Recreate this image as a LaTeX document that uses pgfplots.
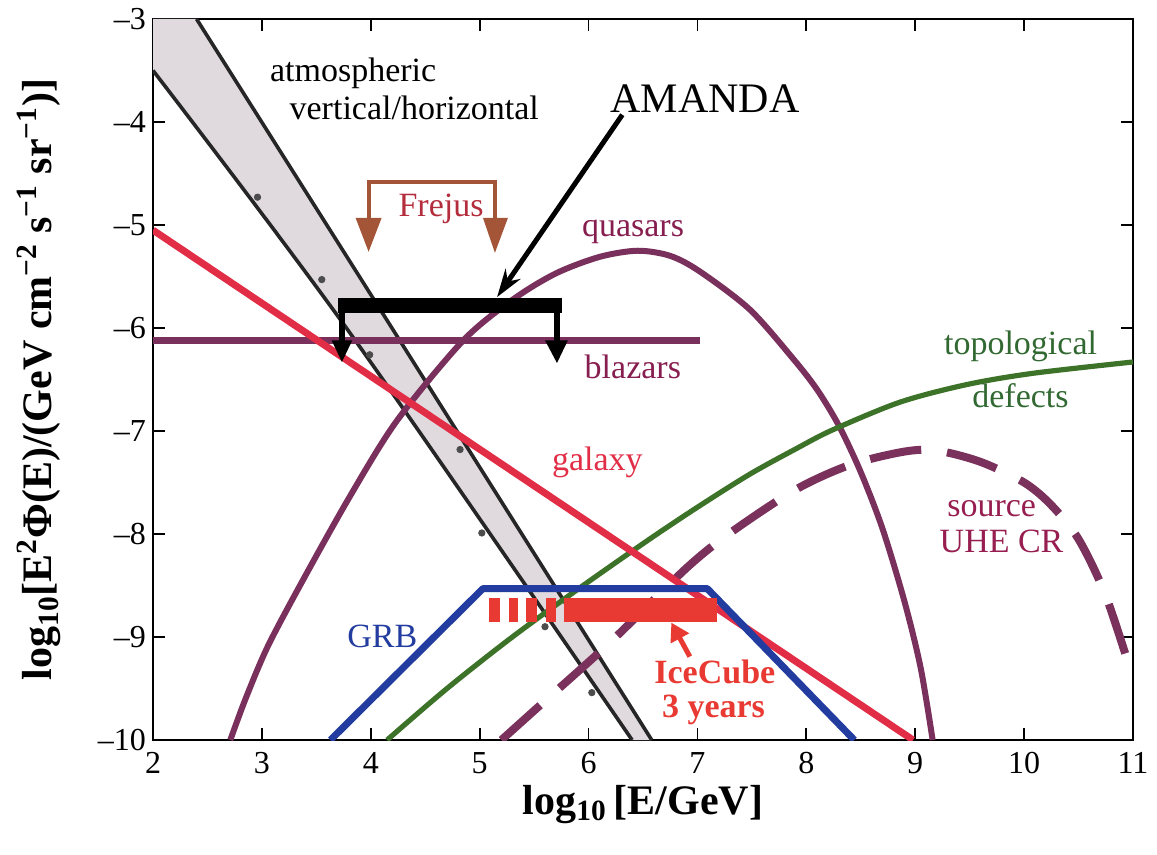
\documentclass[border=0pt]{standalone}
\usepackage{fontspec}
\setmainfont{Liberation Serif}
\usepackage{pgfplots}
\pgfplotsset{compat=1.18}
\usetikzlibrary{arrows.meta}
\definecolor{galred}{RGB}{226,45,70}
\definecolor{quas}{RGB}{122,48,92}
\definecolor{qtext}{RGB}{135,30,80}
\definecolor{topo}{RGB}{60,115,40}
\definecolor{topotext}{RGB}{50,105,50}
\definecolor{grb}{RGB}{35,60,160}
\definecolor{ice}{RGB}{232,58,50}
\definecolor{frej}{RGB}{165,85,55}
\definecolor{frejtext}{RGB}{180,45,60}
\definecolor{band}{RGB}{224,218,222}
\definecolor{uhe}{RGB}{122,50,92}
\definecolor{uhetext}{RGB}{150,30,80}
\newcommand{\lab}{\fontsize{17}{20}\selectfont}
\begin{document}
\begin{tikzpicture}
\begin{axis}[name=ax, scale only axis, width=490pt, height=360.5pt,
  xmin=2, xmax=11, ymin=-10, ymax=-3,
  xtick={2,...,11}, ytick={-10,...,-3},
  yticklabels={–10,–9,–8,–7,–6,–5,–4,–3},
  tick align=inside, major tick length=6pt,
  axis line style={line width=1.2pt},
  every tick/.style={line width=0.9pt, black},
  /pgf/number format/assume math mode=true,
  tick label style={font=\fontsize{16}{18}\selectfont},
  xticklabel shift=2.5pt,
  clip=true]
% atmospheric band
\addplot[fill=band, draw=none] coordinates {(2,-3) (2.4,-3) (4.2,-6.01) (6.58,-10) (6.4,-10) (3.81,-6.05) (2,-3.5)};
\addplot[black!85, line width=1.8pt] coordinates {(2.4,-3) (4.2,-6.01) (6.58,-10)};
\addplot[black!85, line width=1.8pt, smooth] coordinates {(2,-3.5) (3.81,-6.05) (6.4,-10)};
\addplot[only marks, mark=*, mark size=1.6pt, black!70] coordinates {(2.96,-4.73) (3.55,-5.53) (3.99,-6.26) (4.82,-7.18) (5.02,-7.99) (5.60,-8.90) (6.03,-9.54)};
% quasars
\addplot[quas, line width=3pt, smooth] coordinates {(2.71,-10) (2.85,-9.6) (3.05,-9.1) (3.35,-8.5) (3.8,-7.65) (4.24,-6.9) (4.85,-6.12) (5.31,-5.72) (5.7,-5.47) (6.1,-5.31) (6.45,-5.25) (6.75,-5.3) (7.02,-5.45) (7.48,-5.82) (7.88,-6.3) (8.1,-6.6) (8.3,-6.95) (8.5,-7.4) (8.7,-7.95) (8.9,-8.65) (9.05,-9.3) (9.16,-10)};
% blazars
\addplot[quas, line width=3.2pt] coordinates {(2,-6.12) (7.02,-6.12)};
% topological defects
\addplot[topo, line width=2.6pt, smooth] coordinates {(4.15,-10) (4.7,-9.5) (5.3,-9.0) (5.95,-8.5) (6.56,-8.05) (7.0,-7.74) (7.48,-7.42) (7.91,-7.17) (8.24,-6.99) (8.86,-6.72) (9.47,-6.55) (10.08,-6.44) (11,-6.33)};
% source UHE CR
\addplot[uhe, line width=4pt, smooth, dash pattern=on 26pt off 13pt] coordinates {(5.2,-10) (5.6,-9.62) (6.2,-9.05) (6.9,-8.33) (7.3,-7.99) (7.9,-7.57) (8.4,-7.33) (8.9,-7.2) (9.2,-7.19) (9.6,-7.3) (10.0,-7.5) (10.25,-7.72) (10.5,-8.05) (10.75,-8.6) (11,-9.4)};
% galaxy
\addplot[galred, line width=3.5pt] coordinates {(2,-5.05) (8.98,-10)};
% GRB
\addplot[grb, line width=3.5pt, line join=round] coordinates {(3.63,-10) (5.03,-8.53) (7.09,-8.53) (8.44,-10)};
% IceCube
\addplot[ice, line width=12pt] coordinates {(5.09,-8.74) (5.19,-8.74)};
\addplot[ice, line width=12pt] coordinates {(5.27,-8.74) (5.35,-8.74)};
\addplot[ice, line width=12pt] coordinates {(5.43,-8.74) (5.53,-8.74)};
\addplot[ice, line width=12pt] coordinates {(5.61,-8.74) (5.70,-8.74)};
\addplot[ice, line width=12pt] coordinates {(5.77,-8.74) (7.18,-8.74)};
\addplot[ice, line width=2.5pt, -{Triangle[length=9pt,width=10pt]}] coordinates {(6.93,-9.19) (6.76,-8.86)};
% Frejus
\addplot[frej, line width=2pt] coordinates {(3.98,-4.95) (3.98,-4.58) (5.14,-4.58) (5.14,-4.95)};
\addplot[fill=frej, draw=none] coordinates {(3.86,-4.93) (4.10,-4.93) (3.98,-5.26)};
\addplot[fill=frej, draw=none] coordinates {(5.03,-4.93) (5.26,-4.93) (5.14,-5.27)};
% AMANDA
\addplot[black, line width=7.5pt] coordinates {(3.70,-5.78) (5.76,-5.78)};
\addplot[black, line width=2.8pt] coordinates {(3.735,-5.78) (3.735,-6.14)};
\addplot[black, line width=2.8pt] coordinates {(5.71,-5.78) (5.71,-6.14)};
\addplot[fill=black, draw=none] coordinates {(3.64,-6.12) (3.83,-6.12) (3.735,-6.33)};
\addplot[fill=black, draw=none] coordinates {(5.60,-6.12) (5.81,-6.12) (5.71,-6.34)};
\addplot[black, line width=2.5pt, -{Stealth[length=14pt,width=9pt]}] coordinates {(6.31,-3.93) (5.16,-5.70)};
% labels
\node[anchor=base, font=\fontsize{21}{24}\selectfont] at (axis cs:7.07,-3.91) {AMANDA};
\node[anchor=base west, font=\lab] at (axis cs:3.01,-3.61) {atmospheric};
\node[anchor=base west, font=\lab] at (axis cs:3.19,-3.98) {vertical/horizontal};
\node[anchor=base west, font=\lab, text=frejtext] at (axis cs:4.19,-4.92) {Frejus};
\node[anchor=base west, font=\lab, text=qtext] at (axis cs:5.875,-5.11) {quasars};
\node[anchor=base west, font=\lab, text=qtext] at (axis cs:5.90,-6.49) {blazars};
\node[anchor=base west, font=\lab, text=galred] at (axis cs:5.60,-7.38) {galaxy};
\node[anchor=base west, font=\lab, text=topotext] at (axis cs:9.2,-6.26) {topological};
\node[anchor=base west, font=\lab, text=topotext] at (axis cs:9.46,-6.77) {defects};
\node[anchor=base west, font=\lab, text=uhetext] at (axis cs:9.23,-7.83) {source};
\node[anchor=base west, font=\lab, text=uhetext] at (axis cs:9.16,-8.18) {UHE CR};
\node[anchor=base west, font=\lab, text=grb] at (axis cs:3.72,-9.10) {GRB};
\node[anchor=base west, font=\lab\bfseries, text=ice] at (axis cs:6.54,-9.45) {IceCube};
\node[anchor=base west, font=\lab\bfseries, text=ice] at (axis cs:6.61,-9.78) {3 years};
\end{axis}
\node[rotate=90, anchor=base, font=\bfseries\fontsize{21}{24}\selectfont] at ([xshift=-50.5pt]ax.west) {log\textsubscript{10}[E\textsuperscript{2}Φ(E)/(GeV cm\textsuperscript{−2} s\textsuperscript{−1} sr\textsuperscript{−1})]};
\node[anchor=base, font=\bfseries\fontsize{21}{24}\selectfont] at ([yshift=-37pt]ax.south) {log\textsubscript{10}\,[E/GeV]};
\pgfresetboundingbox
\useasboundingbox ([shift={(-76.5pt,-57pt)}]ax.south west) rectangle ([shift={(12pt,9.5pt)}]ax.north east);
\end{tikzpicture}
\end{document}
